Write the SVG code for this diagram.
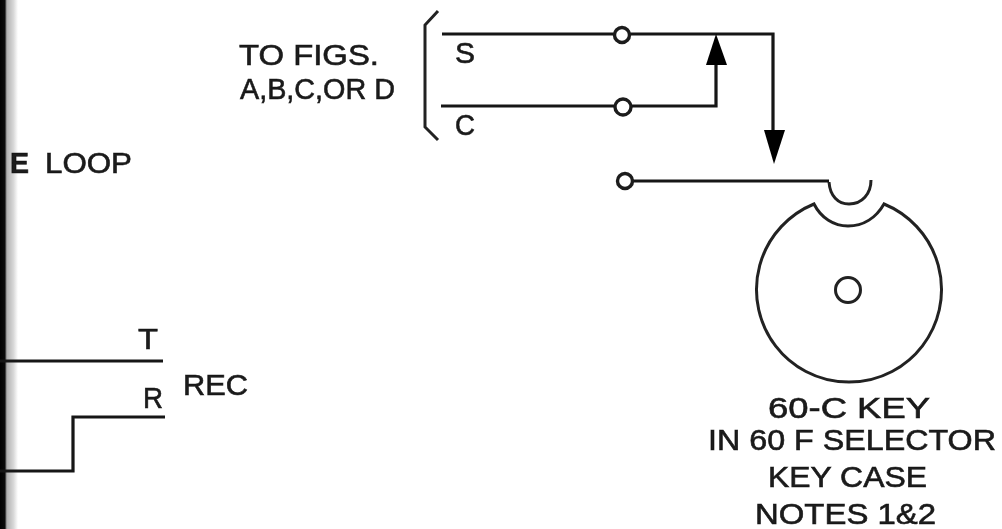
<svg xmlns="http://www.w3.org/2000/svg" width="1002" height="529" viewBox="0 0 1002 529">
<defs>
<linearGradient id="edge" x1="0" x2="1" y1="0" y2="0"><stop offset="0" stop-color="#000"/><stop offset="0.27" stop-color="#0a0a0a"/><stop offset="0.38" stop-color="#b0b0b0"/><stop offset="0.75" stop-color="#d8d8d8"/><stop offset="1" stop-color="#fff"/></linearGradient>
<filter id="soft" x="-5%" y="-5%" width="110%" height="110%"><feGaussianBlur stdDeviation="0.6"/></filter>
</defs>
<style>
.w{fill:none;stroke:#161616;stroke-width:3.2;stroke-linejoin:miter}
.t{fill:none;stroke:#222;stroke-width:3}
.h{fill:#000;stroke:none}
.o{fill:#fff;stroke:#1c1c1c;stroke-width:3.4}
text{font-family:"Liberation Sans",Arial,sans-serif;font-size:29px;fill:#1a1a1a;stroke:#1a1a1a;stroke-width:.6}
</style>
<rect width="1002" height="529" fill="#fff"/>
<rect x="0" y="0" width="18" height="529" fill="url(#edge)"/>
<g filter="url(#soft)">
<g id="connectors">
<path class="w" d="M442 34H773V134"/>
<path class="w" d="M441 106H716V60"/>
<path class="w" d="M625 181H829"/>
<path class="w" d="M0 361H163"/>
<path class="w" d="M0 471H73V417H165"/>
<path class="t" d="M438 11L425 25V127L438 140"/>
<polygon class="h" points="716,34 727,65 706,65"/>
<polygon class="h" points="774,164 764,130 785,130"/>
</g>
<g id="terminal-s"><circle class="o" cx="622" cy="35" r="7.500"/></g>
<g id="terminal-c"><circle class="o" cx="623" cy="107" r="8"/></g>
<g id="terminal-key"><circle class="o" cx="625" cy="181" r="7.500"/></g>
<g id="key">
<path class="t" d="M829 182C830 196 838 204 849 204C862 204 871 194 871 180"/>
<path class="t" d="M814 204C821 218 834 226 848 226C863 226 876 218 884 204A92.500 92.500 0 1 1 814 204Z"/>
<circle class="t" cx="848" cy="290" r="12.500"/>
</g>
<g id="labels">
<text x="239" y="65" textLength="140" lengthAdjust="spacingAndGlyphs">TO FIGS.</text>
<text x="240" y="99" textLength="155" lengthAdjust="spacingAndGlyphs">A,B,C,OR D</text>
<text x="455" y="63" textLength="20" lengthAdjust="spacingAndGlyphs">S</text>
<text x="455" y="135" textLength="20" lengthAdjust="spacingAndGlyphs">C</text>
<text x="10" y="173" textLength="19" lengthAdjust="spacingAndGlyphs" font-weight="bold">E</text>
<text x="45" y="173" textLength="87" lengthAdjust="spacingAndGlyphs">LOOP</text>
<text x="138" y="349" textLength="20" lengthAdjust="spacingAndGlyphs">T</text>
<text x="143" y="408" textLength="20" lengthAdjust="spacingAndGlyphs">R</text>
<text x="183" y="395" textLength="65" lengthAdjust="spacingAndGlyphs">REC</text>
<text x="768" y="418" textLength="162" lengthAdjust="spacingAndGlyphs">60-C KEY</text>
<text x="708" y="450" textLength="288" lengthAdjust="spacingAndGlyphs">IN 60 F SELECTOR</text>
<text x="768" y="487" textLength="159" lengthAdjust="spacingAndGlyphs">KEY CASE</text>
<text x="755" y="524" textLength="181" lengthAdjust="spacingAndGlyphs">NOTES 1&amp;2</text>
</g>
</g>
</svg>
